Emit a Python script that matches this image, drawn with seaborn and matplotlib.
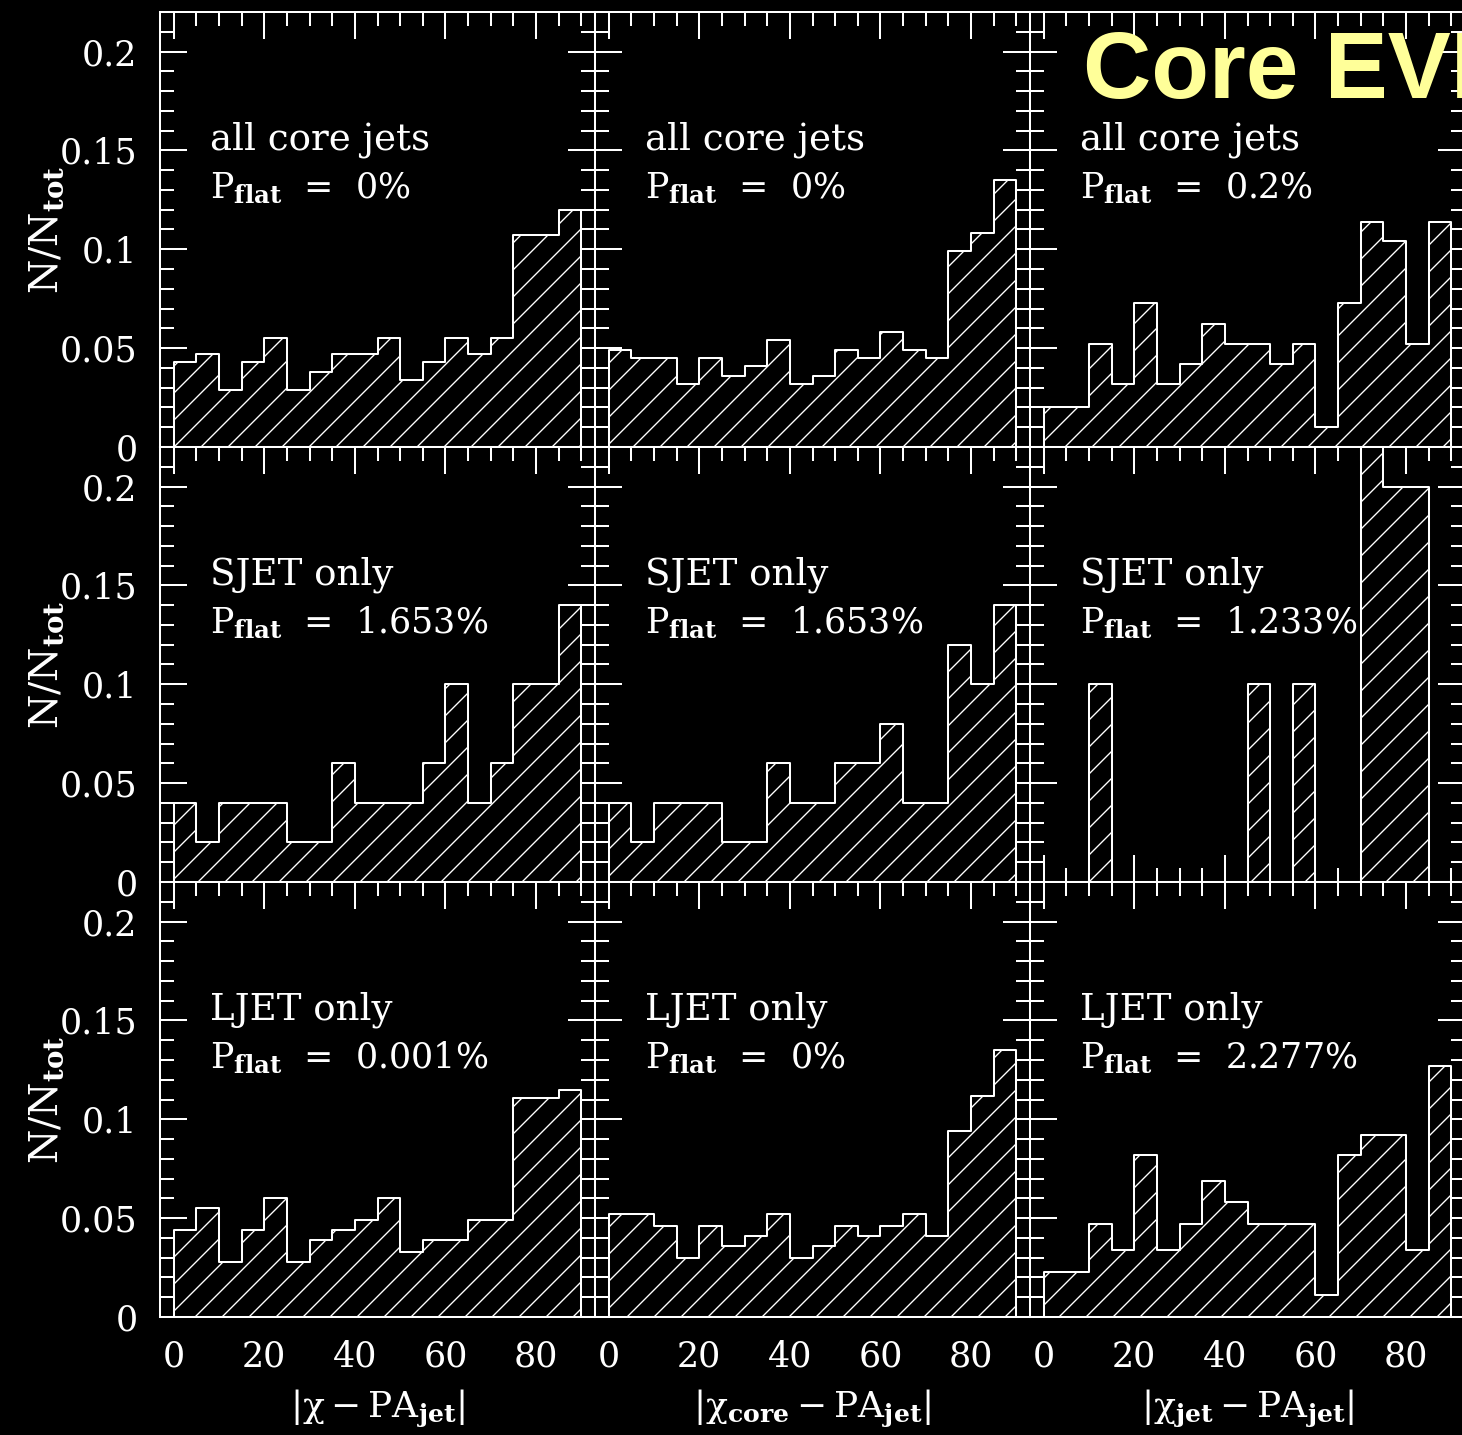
import numpy as np
import pandas as pd
import matplotlib
matplotlib.use("Agg")
import matplotlib.pyplot as plt
import seaborn as sns

# 5-degree bins over 0..90 degrees
BIN_EDGES = [0, 5, 10, 15, 20, 25, 30, 35, 40, 45, 50, 55, 60, 65, 70, 75, 80, 85, 90]

# Normalised counts N/N_tot per bin
all_chi = [0.043, 0.047, 0.029, 0.043, 0.055, 0.029, 0.038, 0.047, 0.047,
           0.055, 0.034, 0.043, 0.055, 0.047, 0.055, 0.107, 0.107, 0.120]
all_core = [0.049, 0.045, 0.045, 0.032, 0.045, 0.036, 0.041, 0.054, 0.032,
            0.036, 0.049, 0.045, 0.058, 0.049, 0.045, 0.099, 0.108, 0.135]
all_jet = [0.020, 0.020, 0.052, 0.032, 0.073, 0.032, 0.042, 0.062, 0.052,
           0.052, 0.042, 0.052, 0.010, 0.073, 0.114, 0.104, 0.052, 0.114]
sjet_chi = [0.04, 0.02, 0.04, 0.04, 0.04, 0.02, 0.02, 0.06, 0.04,
            0.04, 0.04, 0.06, 0.10, 0.04, 0.06, 0.10, 0.10, 0.14]
sjet_core = [0.04, 0.02, 0.04, 0.04, 0.04, 0.02, 0.02, 0.06, 0.04,
             0.04, 0.06, 0.06, 0.08, 0.04, 0.04, 0.12, 0.10, 0.14]
sjet_jet = [0.0, 0.0, 0.10, 0.0, 0.0, 0.0, 0.0, 0.0, 0.0,
            0.10, 0.0, 0.10, 0.0, 0.0, 0.30, 0.20, 0.20, 0.0]
ljet_chi = [0.044, 0.055, 0.028, 0.044, 0.060, 0.028, 0.039, 0.044, 0.049,
            0.060, 0.033, 0.039, 0.039, 0.049, 0.049, 0.111, 0.111, 0.115]
ljet_core = [0.052, 0.052, 0.046, 0.030, 0.046, 0.036, 0.041, 0.052, 0.030,
             0.036, 0.046, 0.041, 0.046, 0.052, 0.041, 0.094, 0.112, 0.135]
ljet_jet = [0.023, 0.023, 0.047, 0.034, 0.082, 0.034, 0.047, 0.069, 0.058,
            0.047, 0.047, 0.047, 0.011, 0.082, 0.092, 0.092, 0.034, 0.127]

grid_values = [[all_chi, all_core, all_jet],
               [sjet_chi, sjet_core, sjet_jet],
               [ljet_chi, ljet_core, ljet_jet]]

sample_names = ["all core jets", "SJET only", "LJET only"]
p_flat = [["0%", "0%", "0.2%"],
          ["1.653%", "1.653%", "1.233%"],
          ["0.001%", "0%", "2.277%"]]

x_ticks = [0, 20, 40, 60, 80]
x_tick_labels = ["0", "20", "40", "60", "80"]
y_ticks = [0, 0.05, 0.1, 0.15, 0.2]
y_tick_labels = ["0", "0.05", "0.1", "0.15", "0.2"]

x_titles = [r"$|\mathrm{\chi} - \mathrm{PA}_{\mathbf{jet}}|$",
            r"$|\mathrm{\chi}_{\mathbf{core}} - \mathrm{PA}_{\mathbf{jet}}|$",
            r"$|\mathrm{\chi}_{\mathbf{jet}} - \mathrm{PA}_{\mathbf{jet}}|$"]
y_title = r"$\mathrm{N/N}_{\mathbf{tot}}$"
headline = "Core EVPA"

sns.set_style("ticks")
plt.rcParams.update({
    "font.family": ["DejaVu Serif"],
    "mathtext.fontset": "dejavuserif",
    "figure.facecolor": "black",
    "axes.facecolor": "black",
    "axes.edgecolor": "white",
    "axes.linewidth": 0.9,
    "text.color": "white",
    "xtick.color": "white",
    "ytick.color": "white",
    "hatch.color": "white",
    "hatch.linewidth": 0.6,
})

DPI = 162
W, H = 1462, 1435
fig = plt.figure(figsize=(W / DPI, H / DPI), dpi=DPI, facecolor="black")

panel = 435
left0, top0 = 160, 12
centers = [(a + b) / 2 for a, b in zip(BIN_EDGES[:-1], BIN_EDGES[1:])]

for r in range(3):
    for c in range(3):
        x0 = left0 + c * panel
        y0 = top0 + r * panel
        ax = fig.add_axes([x0 / W, 1 - (y0 + panel) / H, panel / W, panel / H])
        ax.set_facecolor("black")
        df = pd.DataFrame({"angle": centers, "frac": grid_values[r][c]})
        sns.histplot(data=df, x="angle", weights="frac", bins=BIN_EDGES,
                     element="step", fill=True, stat="count",
                     facecolor="black", edgecolor="white", linewidth=0.9,
                     hatch="//", ax=ax)
        ax.set_xlim(-3, 93)
        ax.set_ylim(0, 0.22)
        ax.set_xticks(x_ticks)
        ax.set_xticks(np.arange(0, 95, 5), minor=True)
        ax.set_yticks(y_ticks)
        ax.set_yticks(np.arange(0, 0.225, 0.01), minor=True)
        ax.tick_params(which="both", direction="in", top=True, right=True,
                       color="white", width=0.9, labelsize=15.5, pad=10)
        ax.tick_params(which="major", length=12)
        ax.tick_params(which="minor", length=6.2)
        for s in ax.spines.values():
            s.set_color("white")
            s.set_linewidth(0.9)
        ax.set_xlabel("")
        ax.set_ylabel("")
        if r == 2:
            ax.set_xticklabels(x_tick_labels)
            ax.set_xlabel(x_titles[c], fontsize=16, color="white", labelpad=6)
        else:
            ax.set_xticklabels([])
        if c == 0:
            ax.set_yticklabels(y_tick_labels)
            ax.set_ylabel(y_title, fontsize=17.5, color="white")
            ax.yaxis.set_label_coords(-0.215, 0.5)
        else:
            ax.set_yticklabels([])
        ax.text(0.115, 0.706, sample_names[r], transform=ax.transAxes,
                ha="left", va="center", fontsize=16.5, color="white")
        ax.text(0.115, 0.595,
                r"$\mathrm{P}_{\mathbf{flat}}$  =  " + p_flat[r][c],
                transform=ax.transAxes, ha="left", va="center",
                fontsize=15.5, color="white")

fig.text(1083 / W, 1 - 98 / H, headline, color="#FFFF99", fontsize=42,
         fontweight="bold", family="Liberation Sans", ha="left",
         va="baseline")

fig.savefig("out.png", dpi=DPI, facecolor="black")
